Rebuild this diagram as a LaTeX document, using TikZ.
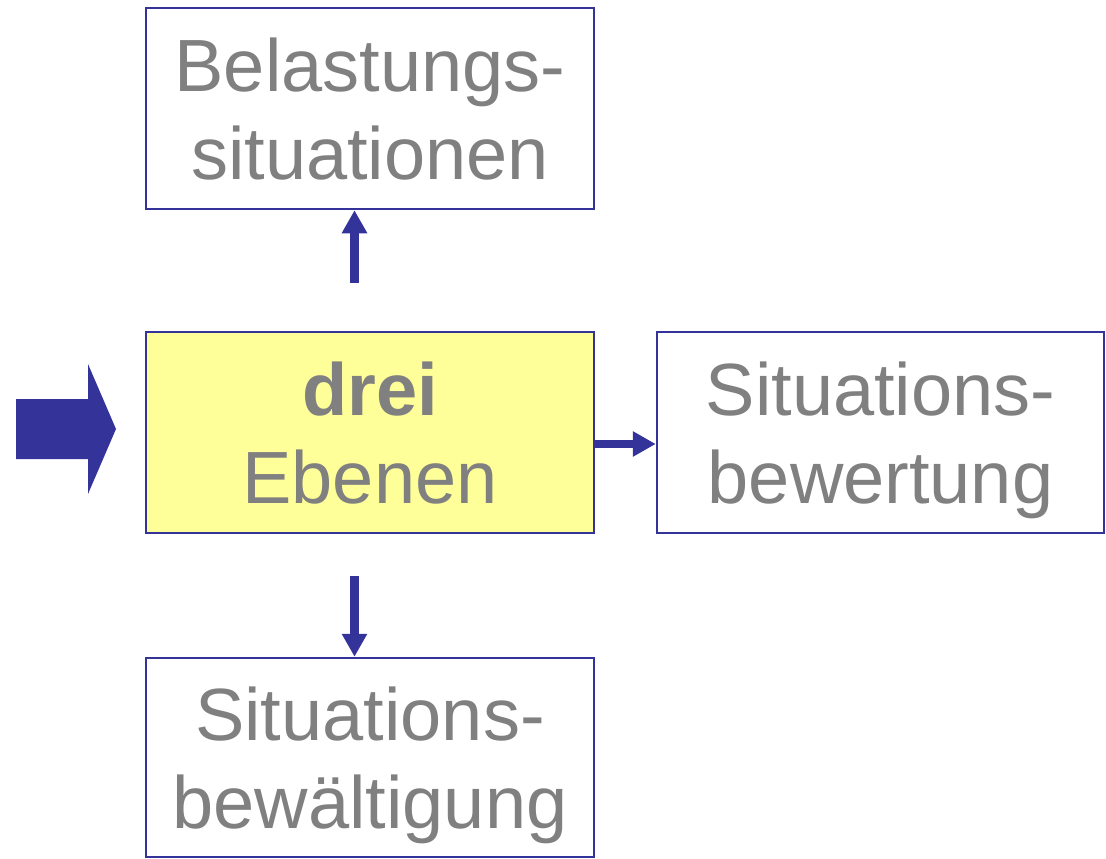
\documentclass[tikz,border=0pt]{standalone}
\usepackage{fontspec}
\setmainfont{Liberation Sans}
\usetikzlibrary{arrows.meta}
\definecolor{frameblue}{HTML}{333399}
\definecolor{boxyellow}{HTML}{FFFF99}
\definecolor{labelgray}{HTML}{808080}
\tikzset{
  box/.style={draw=frameblue, line width=2.5pt, fill=white, inner sep=0pt,
    minimum width=448pt, minimum height=201pt},
  lbl/.style={inner sep=0pt, align=center, text=labelgray,
    font=\fontsize{74}{88.5}\selectfont, yshift=-9.3pt},
  link/.style={draw=frameblue, line width=9pt,
    -{Triangle[width=24pt,length=23pt]}},
  sidelink/.style={draw=frameblue, line width=7.5pt,
    -{Triangle[width=24pt,length=23pt]}}
}
\begin{document}
\begin{tikzpicture}[x=1pt,y=1pt]
\useasboundingbox (0,0) rectangle (1106,-859);
% the four boxes
\node[box] (top) at (370,-108.5) {};
\node[box, fill=boxyellow] (mid) at (370,-432.5) {};
\node[box, minimum width=447pt] (right) at (880.5,-432.5) {};
\node[box, minimum height=199pt] (bot) at (370,-757.5) {};
% their two-line captions
\node[lbl] (topText) at (top.center) {\strut Belastungs-\\\strut situationen};
\node[lbl] (midText) at (mid.center) {\strut\textbf{drei}\\\strut Ebenen};
\node[lbl] (rightText) at (right.center) {\strut Situations-\\\strut bewertung};
\node[lbl] (botText) at (bot.center) {\strut Situations-\\\strut bewältigung};
% incoming block arrow on the left
\fill[frameblue] (16,-399) -- (88,-399) -- (88,-364) -- (116,-429)
  -- (88,-494) -- (88,-459) -- (16,-459) -- cycle;
% connectors
\draw[link] ([shift={(-15.5pt,48pt)}]mid.north) -- ([xshift=-15.5pt]top.south);
\draw[link] ([shift={(-15.5pt,-42pt)}]mid.south) -- ([xshift=-15.5pt]bot.north);
\draw[sidelink] ([yshift=-11.5pt]mid.east) -- ([yshift=-11.5pt]right.west);
\end{tikzpicture}
\end{document}
